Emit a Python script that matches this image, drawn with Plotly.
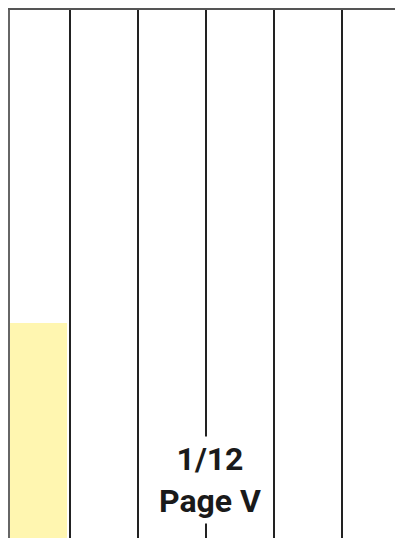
import plotly.graph_objects as go

# Data
categories = [0]
values = [41.6]
column_bounds = [0.5, 1.5, 2.5, 3.5, 4.5, 5.5]
label_lines = ["1/12", "Page V"]
label_pos = (2.56, 12.3)

fig = go.Figure()
fig.add_trace(go.Bar(
    x=categories, y=values,
    width=58 / 68, offset=-27 / 68,
    marker=dict(color="#fff6b0", line=dict(width=0)),
    hoverinfo="skip", showlegend=False,
))

fig.add_annotation(
    x=label_pos[0], y=label_pos[1], xref="x", yref="y",
    text="<b>" + "<br>".join(label_lines) + "</b>",
    showarrow=False, bgcolor="white", borderpad=3,
    font=dict(family="Roboto, sans-serif", size=32, color="#1a1a1a"),
    align="center",
)

fig.update_layout(
    width=403, height=538,
    margin=dict(l=2, r=0, t=2, b=0),
    paper_bgcolor="white", plot_bgcolor="white",
    xaxis=dict(
        range=[-26 / 68, 375 / 68], side="top",
        tickvals=column_bounds, showticklabels=False, ticks="",
        showgrid=True, gridcolor="#222222", gridwidth=1.5,
        showline=True, linecolor="#555555", linewidth=2,
        zeroline=False, fixedrange=True,
    ),
    yaxis=dict(
        range=[0, 100], showticklabels=False, ticks="",
        showgrid=False, zeroline=False,
        showline=True, linecolor="#666666", linewidth=2,
        fixedrange=True,
    ),
    bargap=0,
)

fig.write_html("out.html", config={"displayModeBar": False})
